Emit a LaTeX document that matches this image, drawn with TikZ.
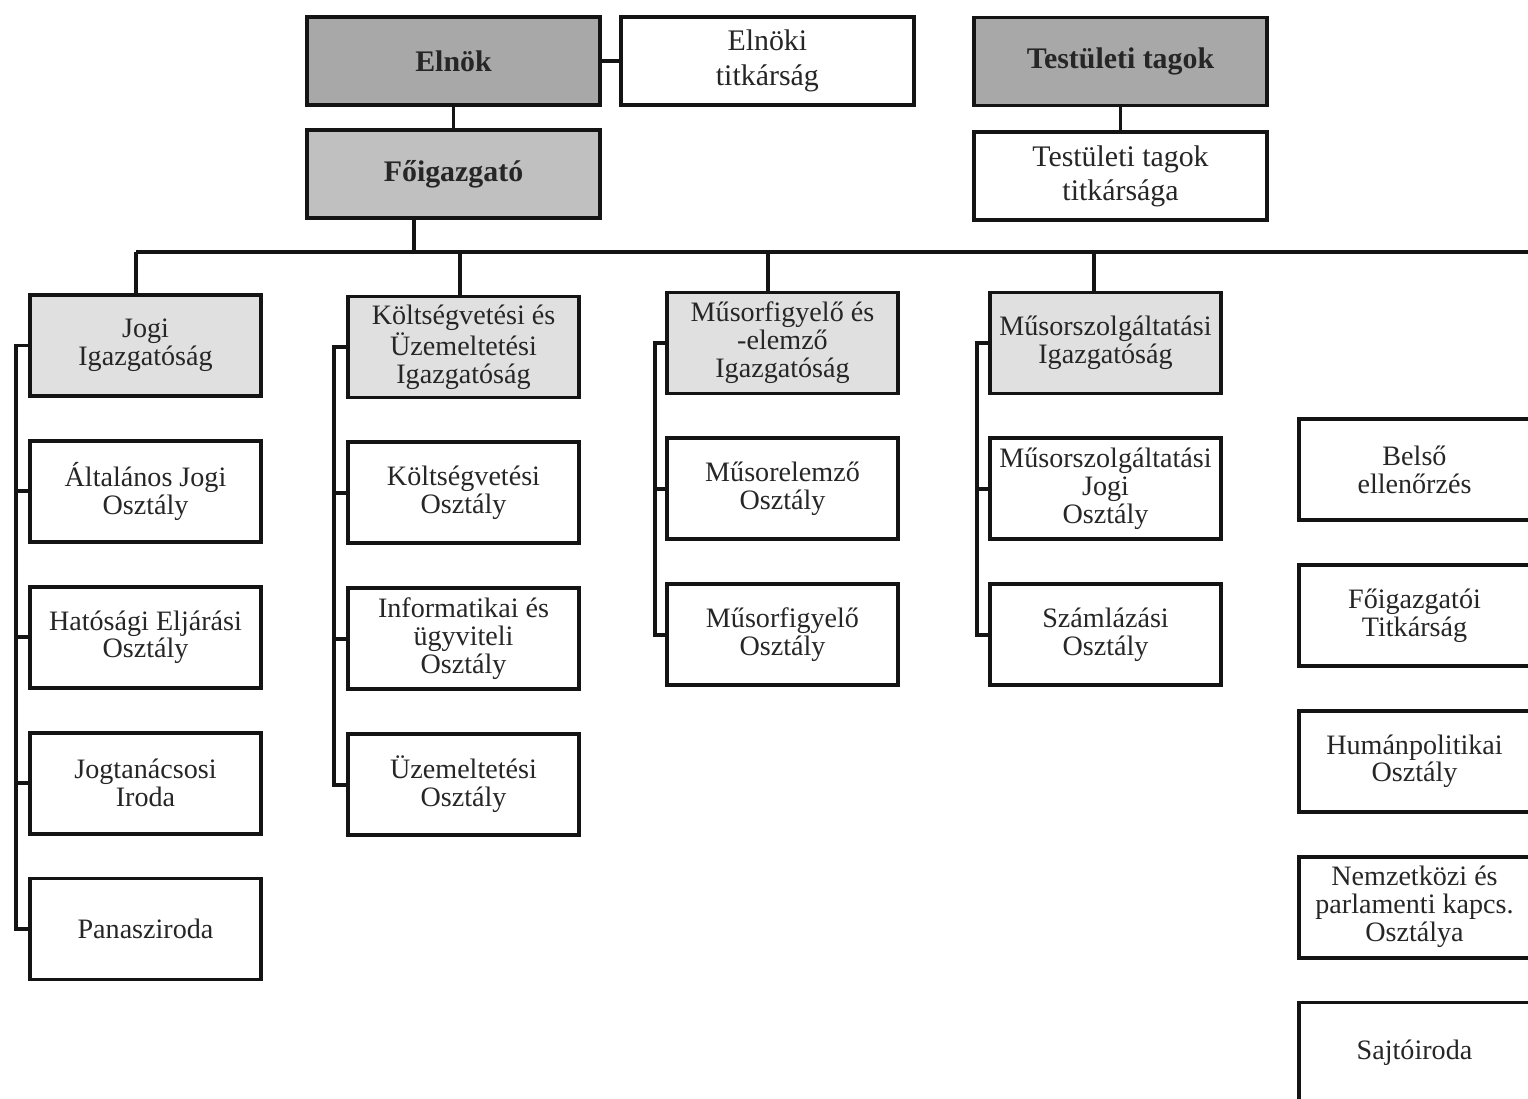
\documentclass[tikz,border=0pt]{standalone}
\usepackage{fontspec}
\setmainfont{Liberation Serif}
\usepackage{tikz}
\usetikzlibrary{positioning, calc}
\definecolor{cDark}{RGB}{168,168,168}
\definecolor{cMid}{RGB}{192,192,192}
\definecolor{cLight}{RGB}{224,224,224}
\definecolor{cText}{RGB}{38,38,38}
\definecolor{cLine}{RGB}{20,20,20}
\tikzset{
	headbox/.style={rectangle, minimum width=5.86cm, minimum height=1.76cm, align=center, draw=cLine, line width=2.2pt, fill=white, text=cText, inner sep=1pt, font=\fontsize{17}{19.5}\selectfont},
	bosshead/.style={headbox, font=\fontsize{17}{19.5}\selectfont\bfseries},
	unitbox/.style={rectangle, minimum width=4.62cm, minimum height=2.02cm, align=center, draw=cLine, line width=2.2pt, fill=white, text=cText, inner sep=1pt, font=\fontsize{16}{15.9}\selectfont},
	dirbox/.style={unitbox, fill=cLight},
	conn/.style={cLine, line width=2.2pt},
}

\begin{document}
\begin{tikzpicture}[node distance=0.82cm]
	\path[use as bounding box] (0,0) rectangle (30.56,-21.98);
	\clip (0,0) rectangle (30.56,-21.98);
	% top of the chart
	\node[bosshead, fill=cDark] (elnok) at (9.07,-1.22) {Elnök};
	\node[headbox, right=0.34cm of elnok] (eltitk) {Elnöki\\ titkárság};
	\node[bosshead, fill=cMid, below=0.42cm of elnok] (foig) {Főigazgató};
	\node[bosshead, fill=cDark] (testulet) at (22.41,-1.23) {Testületi tagok};
	\node[headbox, below=0.46cm of testulet] (testtitk) {Testületi tagok\\ titkársága};
	\draw[conn] (elnok) -- (eltitk);
	\draw[conn] (elnok) -- (foig);
	\draw[conn] (testulet) -- (testtitk);
	% directorates
	\node[dirbox] (jogi) at (2.91,-6.91) {Jogi\\ Igazgatóság};
	\node[unitbox, below=of jogi] (altjog) {Általános Jogi\\ Osztály};
	\node[unitbox, below=of altjog] (hatosag) {Hatósági Eljárási\\ Osztály};
	\node[unitbox, below=of hatosag] (jogtan) {Jogtanácsosi\\ Iroda};
	\node[unitbox, below=of jogtan] (panasz) {Panasziroda};

	\node[dirbox] (koltseg) at (9.27,-6.94) {Költségvetési és\\ Üzemeltetési\\ Igazgatóság};
	\node[unitbox, below=of koltseg] (koltoszt) {Költségvetési\\ Osztály};
	\node[unitbox, below=of koltoszt] (inform) {Informatikai és\\ ügyviteli\\ Osztály};
	\node[unitbox, below=of inform] (uzem) {Üzemeltetési\\ Osztály};

	\node[dirbox] (musfig) at (15.65,-6.86) {Műsorfigyelő és\\ -elemző\\ Igazgatóság};
	\node[unitbox, below=of musfig] (muselem) {Műsorelemző\\ Osztály};
	\node[unitbox, below=of muselem] (musfoszt) {Műsorfigyelő\\ Osztály};

	\node[dirbox] (musszolg) at (22.11,-6.86) {Műsorszolgáltatási\\ Igazgatóság};
	\node[unitbox, below=of musszolg] (mszjogi) {Műsorszolgáltatási\\ Jogi\\ Osztály};
	\node[unitbox, below=of mszjogi] (szamla) {Számlázási\\ Osztály};

	% staff units on the right
	\node[unitbox] (belso) at (28.29,-9.39) {Belső\\ ellenőrzés};
	\node[unitbox, below=of belso] (fotitk) {Főigazgatói\\ Titkárság};
	\node[unitbox, below=of fotitk] (human) {Humánpolitikai\\ Osztály};
	\node[unitbox, below=of human] (nemzet) {Nemzetközi és\\ parlamenti kapcs.\\ Osztálya};
	\node[unitbox, below=of nemzet] (sajto) {Sajtóiroda};

	% bus line and drops
	\coordinate (busL) at (2.72,-5.04);
	\coordinate (busR) at (31.2,-5.04);
	\draw[conn] (busL) -- (busR);
	\draw[conn] (foig.south) ++(-0.79,0) |- (busL);
	\draw[conn] (jogi.north) ++(-0.19,0) |- (busL);
	\draw[conn] (koltseg.north) ++(-0.07,0) |- (busL);
	\draw[conn] (musfig.north) ++(-0.29,0) |- (busL);
	\draw[conn] (musszolg.north) ++(-0.23,0) |- (busL);

	% column spines
	\foreach \u in {altjog, hatosag, jogtan, panasz}
		\draw[conn] (jogi.west) -- ++(-0.24,0) |- (\u.west);
	\foreach \u in {koltoszt, inform, uzem}
		\draw[conn] (koltseg.west) -- ++(-0.24,0) |- (\u.west);
	\foreach \u in {muselem, musfoszt}
		\draw[conn] (musfig.west) -- ++(-0.2,0) |- (\u.west);
	\foreach \u in {mszjogi, szamla}
		\draw[conn] (musszolg.west) -- ++(-0.22,0) |- (\u.west);
\end{tikzpicture}
\end{document}
